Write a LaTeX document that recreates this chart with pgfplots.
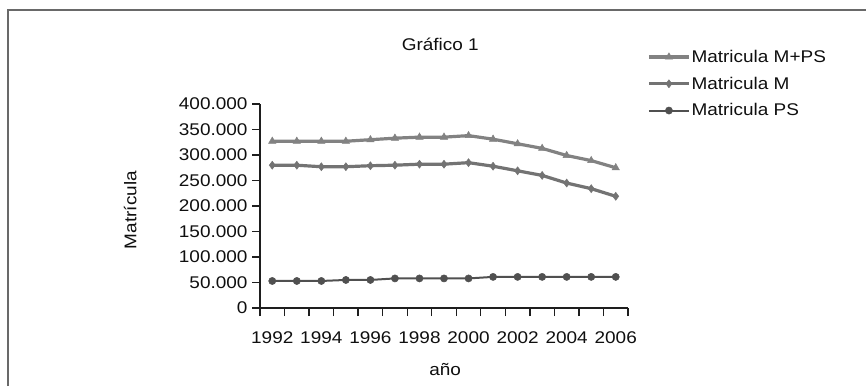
\documentclass[border=0pt]{standalone}
\usepackage{fontspec}
\setmainfont{Liberation Sans}[FakeStretch=1.12]
\usepackage{pgfplots}
\pgfplotsset{compat=1.18}
\definecolor{lineA}{RGB}{130,130,130}
\definecolor{lineB}{RGB}{115,115,115}
\definecolor{lineC}{RGB}{80,80,80}
\definecolor{axisc}{RGB}{30,30,30}
\definecolor{framec}{RGB}{105,105,105}
\definecolor{txt}{RGB}{15,15,15}
\begin{document}
\begin{tikzpicture}[x=1bp,y=1bp]
\useasboundingbox (0,0) rectangle (866,386);
\draw[framec,line width=2bp] (8,0) -- (8,376) -- (866,376);
\begin{axis}[
  at={(260bp,78bp)}, anchor=south west,
  scale only axis, width=368bp, height=204bp,
  xmin=1991.5, xmax=2006.5, ymin=0, ymax=400000,
  axis lines=left, axis line style={-, axisc, line width=1.6bp},
  xtick={1992,1994,...,2006}, minor xtick={1991.5,1992.5,...,2006.5},
  major x tick style={draw=none}, minor x tick style={axisc, line width=1.3bp},
  minor tick length=8bp, major tick length=8bp,
  ytick={0,50000,...,400000}, y tick style={axisc, line width=1.3bp},
  tick align=outside, xtick pos=bottom, ytick pos=left,
  scaled y ticks=false,
  /pgf/number format/assume math mode=true,
  yticklabel style={/pgf/number format/fixed, /pgf/number format/1000 sep={.}, xshift=-1bp},
  xticklabel style={/pgf/number format/1000 sep={}, yshift=-12bp},
  ticklabel style={font=\fontsize{17}{19}\selectfont, text=txt},
  title={Gráfico 1}, title style={at={(axis description cs:0.49,1.265)}, anchor=center, font=\fontsize{17}{19}\selectfont, text=txt},
  xlabel={año}, xlabel style={at={(axis description cs:0.503,-0.30)}, anchor=center, font=\fontsize{17}{19}\selectfont, text=txt},
  ylabel={Matrícula}, ylabel style={at={(axis description cs:-0.353,0.48)}, anchor=center, font=\fontsize{17}{19}\selectfont, text=txt},
  legend style={at={(axis description cs:1.052,1.27)}, anchor=north west, draw=none, fill=none,
    font=\fontsize{17}{19}\selectfont, text=txt, row sep=11bp, inner sep=0pt,
    nodes={inner sep=1bp}},
  legend cell align=left,
  legend image code/.code={\draw[#1, mark repeat=2, mark phase=2] plot coordinates {(0bp,0bp) (20bp,0bp) (40bp,0bp)};},
  clip=false,
]
\addplot[lineA, line width=3.2bp, mark=triangle*, mark size=4.2bp, mark options={fill=lineA, draw=lineA, line width=0.5bp}] coordinates {
(1992,327000) (1993,327000) (1994,327000) (1995,327000) (1996,330000) (1997,333000) (1998,335000) (1999,335000) (2000,338000) (2001,331000) (2002,322000) (2003,313000) (2004,299000) (2005,289000) (2006,275000)};
\addlegendentry{Matricula M+PS}
\addplot[lineB, line width=3.2bp, mark=diamond*, mark size=4bp, mark options={fill=lineB, draw=lineB, line width=0.5bp}] coordinates {
(1992,280000) (1993,280000) (1994,277000) (1995,277000) (1996,279000) (1997,280000) (1998,282000) (1999,282000) (2000,285000) (2001,278000) (2002,269000) (2003,260000) (2004,245000) (2005,234000) (2006,219000)};
\addlegendentry{Matricula M}
\addplot[lineC, line width=2bp, mark=*, mark size=3.6bp, mark options={fill=lineC, draw=lineC, line width=0.5bp}] coordinates {
(1992,53000) (1993,53000) (1994,53000) (1995,55000) (1996,55000) (1997,58000) (1998,58000) (1999,58000) (2000,58000) (2001,61000) (2002,61000) (2003,61000) (2004,61000) (2005,61000) (2006,61000)};
\addlegendentry{Matricula PS}
\end{axis}
\end{tikzpicture}
\end{document}
